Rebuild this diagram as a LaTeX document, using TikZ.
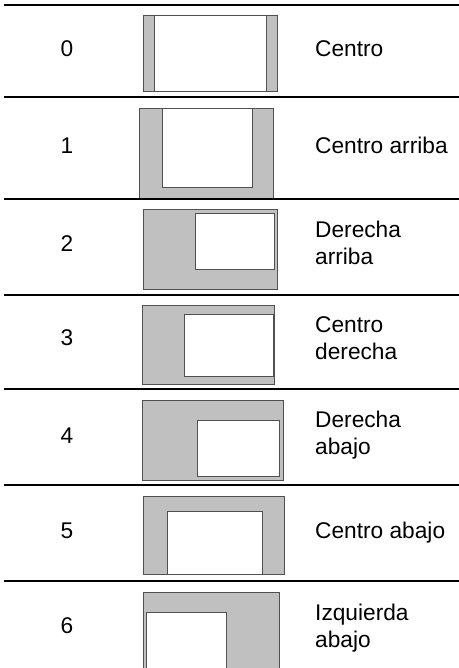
\documentclass[tikz,border=0pt]{standalone}
\usepackage{fontspec}
\setmainfont{Liberation Sans}
\definecolor{boxgray}{RGB}{192,192,192}
\definecolor{edgegray}{RGB}{80,80,80}
\begin{document}
\begin{tikzpicture}[x=1pt,y=-1pt,
  outerbox/.style={fill=boxgray,draw=edgegray,line width=0.9pt},
  innerbox/.style={fill=white,draw=edgegray,line width=0.9pt},
  rule/.style={line width=2.3pt,black},
  numlbl/.style={anchor=base,inner sep=0pt,font=\fontsize{22.7}{27}\selectfont},
  txtlbl/.style={anchor=base west,inner sep=0pt,font=\fontsize{22.7}{27}\selectfont}]
\useasboundingbox (0,0) rectangle (458,668);
% row 0
\draw[outerbox] (143,15) rectangle (277,91);
\draw[innerbox] (154,15) rectangle (266,91);
% row 1
\draw[outerbox] (139,108) rectangle (273,198);
\draw[innerbox] (162,108) rectangle (252,187);
% row 2
\draw[outerbox] (143,209) rectangle (277,289);
\draw[innerbox] (195,213) rectangle (274,269);
% row 3
\draw[outerbox] (142,305) rectangle (274,384);
\draw[innerbox] (184,314) rectangle (273,376);
% row 4
\draw[outerbox] (142,400) rectangle (283,480);
\draw[innerbox] (197,420) rectangle (279,476);
% row 5
\draw[outerbox] (143,496) rectangle (284,574);
\draw[innerbox] (167,511) rectangle (262,574);
% row 6
\draw[outerbox] (143,592) rectangle (279,672);
\draw[innerbox] (146,612) rectangle (226,672);
% rules
\coordinate (r0a) at (4,5);   \coordinate (r0b) at (460,5);
\coordinate (r1a) at (4,97);  \coordinate (r1b) at (460,97);
\coordinate (r2a) at (4,199); \coordinate (r2b) at (460,199);
\coordinate (r3a) at (4,295); \coordinate (r3b) at (460,295);
\coordinate (r4a) at (4,389); \coordinate (r4b) at (460,389);
\coordinate (r5a) at (4,485); \coordinate (r5b) at (460,485);
\coordinate (r6a) at (4,581); \coordinate (r6b) at (460,581);
\draw[rule] (r0a) -- (r0b);
\draw[rule] (r1a) -- (r1b);
\draw[rule] (r2a) -- (r2b);
\draw[rule] (r3a) -- (r3b);
\draw[rule] (r4a) -- (r4b);
\draw[rule] (r5a) -- (r5b);
\draw[rule] (r6a) -- (r6b);
% numbers
\node[numlbl] (n0) at (67,57) {0};
\node[numlbl] (n1) at (67,154) {1};
\node[numlbl] (n2) at (67,251) {2};
\node[numlbl] (n3) at (67,345) {3};
\node[numlbl] (n4) at (67,443) {4};
\node[numlbl] (n5) at (67,538) {5};
\node[numlbl] (n6) at (67,633) {6};
% labels
\node[txtlbl] (t0) at (315,57) {Centro};
\node[txtlbl] (t1) at (315,154) {Centro arriba};
\node[txtlbl] (t2a) at (315,237) {Derecha};
\node[txtlbl] (t2b) at (315,264) {arriba};
\node[txtlbl] (t3a) at (315,332) {Centro};
\node[txtlbl] (t3b) at (315,359) {derecha};
\node[txtlbl] (t4a) at (315,427) {Derecha};
\node[txtlbl] (t4b) at (315,454) {abajo};
\node[txtlbl] (t5) at (315,538) {Centro abajo};
\node[txtlbl] (t6a) at (315,620) {Izquierda};
\node[txtlbl] (t6b) at (315,647) {abajo};
\end{tikzpicture}
\end{document}
